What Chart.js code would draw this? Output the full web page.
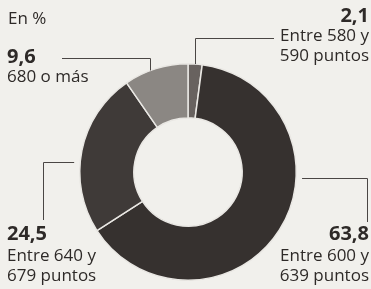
<!DOCTYPE html>
<html>
<head>
<meta charset="utf-8">
<script src="https://cdn.jsdelivr.net/npm/chart.js@4/dist/chart.umd.min.js"></script>
<style>
    html, body { margin:0; padding:0; background:#f1f0ec; }
    #wrap { width:371px; height:289px; position:relative; }
</style>
</head>
<body>
<div id="wrap"><canvas id="canvasGraph"></canvas></div>
<script>
// Données du graphique (en %)
var valeurs = [2.1, 63.8, 24.5, 9.6];
var etiquettes = ["2,1", "63,8", "24,5", "9,6"];
var textes = [
    ["Entre 580 y", "590 puntos"],
    ["Entre 600 y", "639 puntos"],
    ["Entre 640 y", "679 puntos"],
    ["680 o más"]
];
var couleurs = ['#68625f', '#36312f', '#3f3a38', '#8b8783'];

var police = "'Open Sans', sans-serif";

// Textes et lignes de rappel
var pluginEtiquettes = {
    id: 'etiquettes',
    afterDraw: function(chart)
    {
        var ctx = chart.ctx;
        var arc = chart.getDatasetMeta(0).data[0];
        var cx = arc.x, cy = arc.y, R = arc.outerRadius;

        ctx.save();
        ctx.fillStyle = '#2e2a28';
        ctx.font = "17px " + police;
        ctx.textBaseline = 'middle';
        ctx.textAlign = 'left';
        ctx.fillText("En %", 8, 19);

        // lignes
        ctx.strokeStyle = '#4a4644';
        ctx.lineWidth = 1;
        ctx.beginPath();
        // 2,1
        ctx.moveTo(195.5, cy - Math.sqrt(R*R - Math.pow(195.5-cx,2)));
        ctx.lineTo(195.5, 38.5);
        ctx.lineTo(274, 38.5);
        // 9,6
        ctx.moveTo(62, 58.5);
        ctx.lineTo(150.5, 58.5);
        ctx.lineTo(150.5, cy - Math.sqrt(R*R - Math.pow(150.5-cx,2)));
        // 24,5
        ctx.moveTo(cx - Math.sqrt(R*R - Math.pow(162.5-cy,2)) - 6, 162.5);
        ctx.lineTo(43.5, 162.5);
        ctx.lineTo(43.5, 220);
        // 63,8
        ctx.moveTo(cx + Math.sqrt(R*R - Math.pow(178.5-cy,2)) + 6, 178.5);
        ctx.lineTo(367.5, 178.5);
        ctx.lineTo(367.5, 222);
        ctx.stroke();

        // 2,1
        ctx.textAlign = 'right';
        ctx.font = "bold 20px " + police;
        ctx.fillText(etiquettes[0], 369, 16);
        ctx.font = "17px " + police;
        ctx.fillText(textes[0][0], 369, 36);
        ctx.fillText(textes[0][1], 369, 56);

        // 63,8
        ctx.font = "bold 20px " + police;
        ctx.fillText(etiquettes[1], 369, 234);
        ctx.font = "17px " + police;
        ctx.fillText(textes[1][0], 369, 256);
        ctx.fillText(textes[1][1], 369, 276);

        // 24,5
        ctx.textAlign = 'left';
        ctx.font = "bold 20px " + police;
        ctx.fillText(etiquettes[2], 7, 234);
        ctx.font = "17px " + police;
        ctx.fillText(textes[2][0], 7, 256);
        ctx.fillText(textes[2][1], 7, 276);

        // 9,6
        ctx.font = "bold 20px " + police;
        ctx.fillText(etiquettes[3], 7, 57);
        ctx.font = "17px " + police;
        ctx.fillText(textes[3][0], 7, 77);
        ctx.restore();
    }
};

var graph = new Chart(document.getElementById("canvasGraph"), {
    type: 'doughnut',
    data: {
        labels: etiquettes,
        datasets: [
            {
                data: valeurs,
                backgroundColor: couleurs,
                borderColor: '#e9e7e3',
                borderWidth: 1.5
            }
        ]
    },
    options: {
        responsive: true,
        maintainAspectRatio: false,
        animation: false,
        cutout: '50%',
        layout: { padding: { left: 79, right: 74, top: 63, bottom: 8 } },
        plugins: {
            legend: { display: false },
            tooltip: { enabled: false }
        }
    },
    plugins: [pluginEtiquettes]
});
</script>
</body>
</html>
